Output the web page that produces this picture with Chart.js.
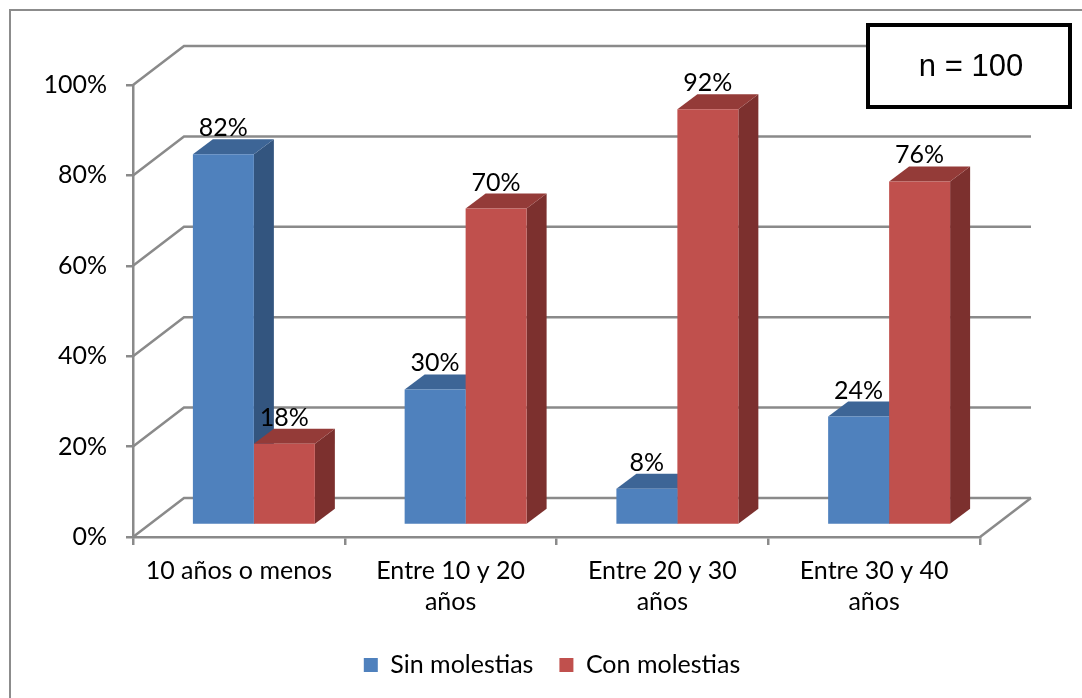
<!DOCTYPE html>
<html>
<head>
<meta charset="utf-8">
<script src="https://cdn.jsdelivr.net/npm/chart.js@4.4.1/dist/chart.umd.min.js"></script>
<style>
  html, body { margin: 0; padding: 0; background: #ffffff; }
  #wrap { width: 1082px; height: 698px; position: relative; }
</style>
</head>
<body>
<div id="wrap"><canvas id="chart" width="1082" height="698"></canvas></div>
<script>
// Data
const categories = ['10 años o menos', ['Entre 10 y 20', 'años'], ['Entre 20 y 30', 'años'], ['Entre 30 y 40', 'años']];
const sinMolestias = [82, 30, 8, 24];
const conMolestias = [18, 70, 92, 76];
const yTickValues = [0, 20, 40, 60, 80, 100];
const sampleSize = 100;

// 3D look: back wall offset, bar plane offset and bar depth (px)
const WALL = { dx: 51, dy: -39 };
const PLANE = { dx: 15, dy: -12 };
const DEPTH = { dx: 20, dy: -15 };
const GRID_COLOR = '#8a8a8a';
const FONT = 'Lato, "Open Sans", sans-serif';
const FONT_SIZE = 25;

const faceColors = [
  { front: '#4F81BD', top: '#3D6596', side: '#33557F' },
  { front: '#C0504D', top: '#943B38', side: '#7C302E' }
];

function pct(v) { return v + '%'; }

const box3d = {
  id: 'box3d',
  beforeDraw(chart) {
    const ctx = chart.ctx;
    ctx.save();
    ctx.fillStyle = '#ffffff';
    ctx.fillRect(0, 0, chart.width, chart.height);
    // frame (left and top edges)
    ctx.strokeStyle = '#8c8c8c';
    ctx.lineWidth = 2;
    ctx.beginPath();
    ctx.moveTo(10, chart.height);
    ctx.lineTo(10, 10);
    ctx.lineTo(chart.width, 10);
    ctx.stroke();
    ctx.restore();
  },
  beforeDatasetsDraw(chart) {
    const ctx = chart.ctx;
    const { left, right, bottom } = chart.chartArea;
    const y = chart.scales.y;
    ctx.save();
    // back wall gridlines with side-wall diagonals
    ctx.strokeStyle = GRID_COLOR;
    ctx.lineWidth = 2.5;
    yTickValues.forEach(v => {
      const py = y.getPixelForValue(v);
      ctx.beginPath();
      ctx.moveTo(left, py);
      ctx.lineTo(left + WALL.dx, py + WALL.dy);
      ctx.lineTo(right + WALL.dx, py + WALL.dy);
      ctx.stroke();
    });
    // floor right edge
    ctx.beginPath();
    ctx.moveTo(right, bottom);
    ctx.lineTo(right + WALL.dx, bottom + WALL.dy);
    ctx.stroke();

    // top and side faces of the bars
    const n = chart.data.labels.length;
    for (let i = 0; i < n; i++) {
      chart.data.datasets.forEach((ds, di) => {
        const bar = chart.getDatasetMeta(di).data[i];
        if (!bar) return;
        const p = bar.getProps(['x', 'y', 'base', 'width'], true);
        const L = p.x - p.width / 2 + PLANE.dx;
        const R = p.x + p.width / 2 + PLANE.dx;
        const T = p.y + PLANE.dy;
        const B = p.base + PLANE.dy;
        const c = faceColors[di];
        ctx.fillStyle = c.side;
        ctx.beginPath();
        ctx.moveTo(R, T);
        ctx.lineTo(R + DEPTH.dx, T + DEPTH.dy);
        ctx.lineTo(R + DEPTH.dx, B + DEPTH.dy);
        ctx.lineTo(R, B);
        ctx.closePath();
        ctx.fill();
        ctx.fillStyle = c.top;
        ctx.beginPath();
        ctx.moveTo(L, T);
        ctx.lineTo(L + DEPTH.dx, T + DEPTH.dy);
        ctx.lineTo(R + DEPTH.dx, T + DEPTH.dy);
        ctx.lineTo(R, T);
        ctx.closePath();
        ctx.fill();
      });
    }
    ctx.restore();
    // front faces are drawn by Chart.js in the bar plane
    ctx.save();
    ctx.translate(PLANE.dx, PLANE.dy);
  },
  afterDatasetsDraw(chart) {
    const ctx = chart.ctx;
    ctx.restore();
    ctx.save();
    ctx.fillStyle = '#000000';
    ctx.font = FONT_SIZE + 'px ' + FONT;
    ctx.textAlign = 'center';
    ctx.textBaseline = 'alphabetic';
    chart.data.datasets.forEach((ds, di) => {
      const meta = chart.getDatasetMeta(di);
      meta.data.forEach((bar, i) => {
        const p = bar.getProps(['x', 'y'], true);
        const x = p.x + PLANE.dx;
        const top = p.y + PLANE.dy + DEPTH.dy;
        ctx.fillText(pct(ds.data[i]), x, top - 3);
      });
    });
    ctx.restore();
  },
  afterDraw(chart) {
    const ctx = chart.ctx;
    ctx.save();
    ctx.fillStyle = '#ffffff';
    ctx.fillRect(868, 25, 202, 82);
    ctx.strokeStyle = '#000000';
    ctx.lineWidth = 4;
    ctx.strokeRect(868, 25, 202, 82);
    ctx.fillStyle = '#000000';
    ctx.font = '31px "Liberation Sans", Arial, sans-serif';
    ctx.textAlign = 'center';
    ctx.textBaseline = 'middle';
    ctx.fillText('n = ' + sampleSize, 971, 67);
    ctx.restore();
  }
};

new Chart(document.getElementById('chart'), {
  type: 'bar',
  data: {
    labels: categories,
    datasets: [
      { label: 'Sin molestias', data: sinMolestias, backgroundColor: faceColors[0].front, borderWidth: 0 },
      { label: 'Con molestias', data: conMolestias, backgroundColor: faceColors[1].front, borderWidth: 0 }
    ]
  },
  options: {
    responsive: false,
    animation: false,
    events: [],
    layout: { padding: { top: 85, right: 0, left: 22, bottom: 10.5 } },
    datasets: { bar: { categoryPercentage: 0.576, barPercentage: 1.0, clip: false } },
    scales: {
      x: {
        grid: { display: true, offset: true, drawOnChartArea: false, color: GRID_COLOR, lineWidth: 2.5, tickLength: 8 },
        border: { display: true, color: GRID_COLOR, width: 2.5 },
        ticks: { color: '#000000', font: { family: FONT, size: FONT_SIZE, lineHeight: 1.24 }, padding: 10, maxRotation: 0, autoSkip: false },
        afterFit(scale) { scale.height = 89.5; }
      },
      y: {
        min: 0, max: 100,
        afterBuildTicks(scale) { scale.ticks = yTickValues.map(v => ({ value: v })); },
        grid: { display: true, drawOnChartArea: false, color: GRID_COLOR, lineWidth: 2.5, tickLength: 7 },
        border: { display: true, color: GRID_COLOR, width: 2.5 },
        ticks: { color: '#000000', font: { family: FONT, size: FONT_SIZE }, padding: 19, callback: v => pct(v) },
        afterFit(scale) { scale.width = 111; }
      },
      // empty space on the right that holds the back wall's depth
      yRight: {
        position: 'right',
        display: true,
        min: 0, max: 100,
        grid: { display: false },
        border: { display: false },
        ticks: { display: false },
        afterFit(scale) { scale.width = 102; }
      }
    },
    plugins: {
      legend: {
        position: 'bottom',
        labels: { color: '#000000', font: { family: FONT, size: FONT_SIZE }, boxWidth: 14, boxHeight: 14, padding: 26 }
      },
      tooltip: { enabled: false }
    }
  },
  plugins: [box3d]
});
</script>
</body>
</html>
